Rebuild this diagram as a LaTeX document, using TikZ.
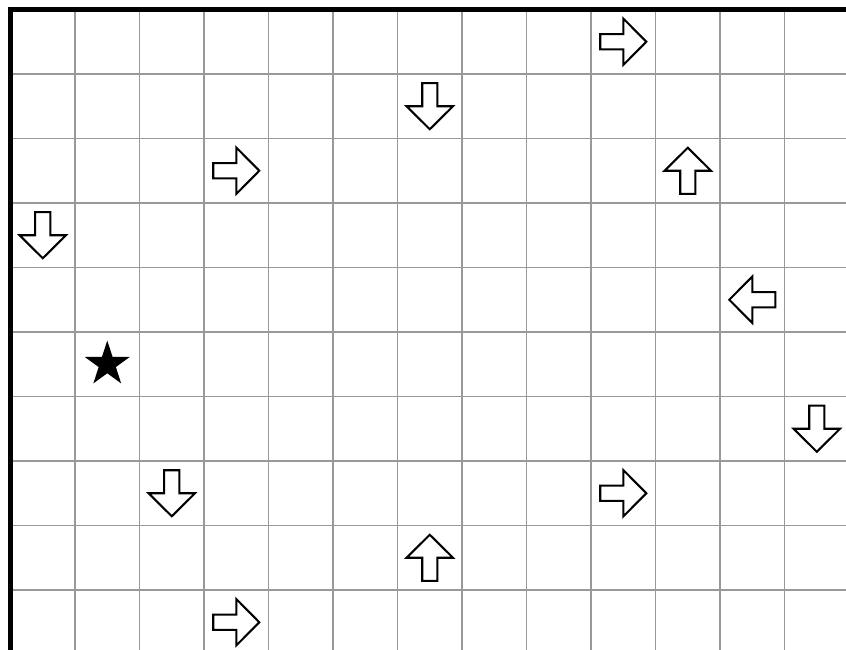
\documentclass[tikz,border=0pt]{standalone}
\usepackage{tikz}
\usetikzlibrary{shapes.geometric}

\begin{document}
\begin{tikzpicture}[
  gridline/.style={draw=gray!80, line width=0.65pt},
  wall/.style={draw=black, line width=2.6pt, line join=miter},
  arrowmark/.style={draw=black, fill=white, line width=0.9pt, line join=miter},
  goal/.style={star, star points=5, star point ratio=2.618, fill=black, minimum size=0.735cm, inner sep=0pt}]
  \useasboundingbox (-0.163,0.147) rectangle (12.953,-9.93);
  \clip (-0.163,0.147) rectangle (12.953,-9.93);

  % grid
  \foreach \i in {1,...,12}
    \draw[gridline] (\i,0) -- (\i,-9.93);
  \foreach \j in {1,...,9}
    \draw[gridline] (0,-\j) -- (12.953,-\j);
  \draw[wall] (0,-9.93) -- (0,0) -- (12.953,0);

  % arrows: column/row/direction
  \foreach \c/\r/\a in {9/0/0, 6/1/-90, 3/2/0, 10/2/90, 0/3/-90, 11/4/180,
                        12/6/-90, 2/7/-90, 9/7/0, 6/8/90, 3/9/0}
    \draw[arrowmark, shift={(\c+0.5,-\r-0.5)}, rotate=\a]
      (-0.357,-0.117) -- (0,-0.117) -- (0,-0.36) -- (0.357,0)
      -- (0,0.36) -- (0,0.117) -- (-0.357,0.117) -- cycle;

  \node[goal] (start) at (1.5,-5.5) {};
\end{tikzpicture}
\end{document}
